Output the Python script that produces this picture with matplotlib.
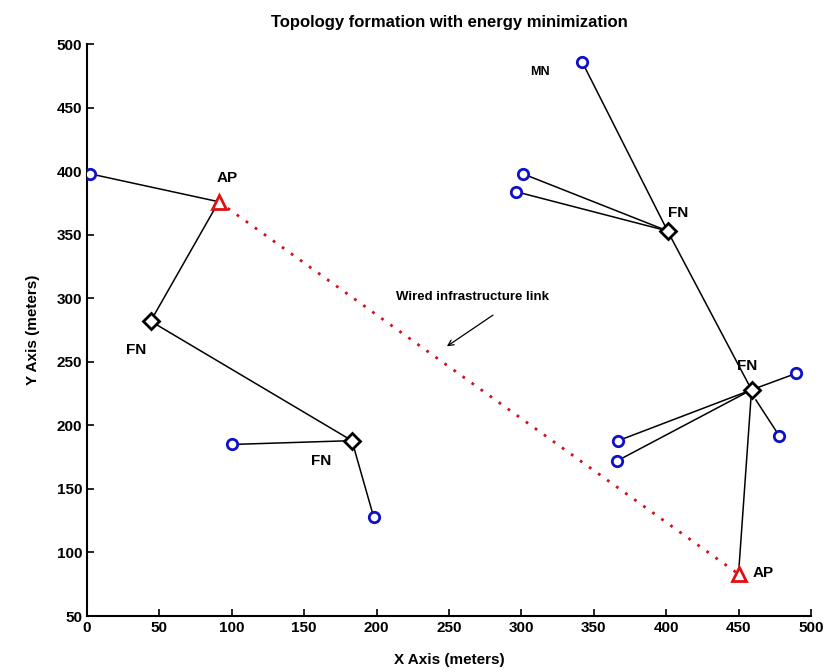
import matplotlib
matplotlib.use("Agg")
import matplotlib.pyplot as plt

plt.rcParams['font.family'] = ['Liberation Sans', 'DejaVu Sans']
plt.rcParams['font.weight'] = 'bold'

# access points (red triangles)
ap_x = [91, 450]
ap_y = [376, 83]

# forwarding nodes (black diamonds)
fn_x = [44, 183, 401, 459]
fn_y = [282, 188, 353, 228]

# mobile nodes (blue circles)
mn_x = [2, 100, 198, 342, 301, 296, 490, 478, 367, 366]
mn_y = [398, 185, 128, 486, 398, 384, 241, 192, 188, 172]

# links as (x0, y0, x1, y1)
links = [
    (2, 398, 91, 376),
    (91, 376, 44, 282),
    (44, 282, 183, 188),
    (100, 185, 183, 188),
    (183, 188, 198, 128),
    (342, 486, 401, 353),
    (301, 398, 401, 353),
    (296, 384, 401, 353),
    (401, 353, 459, 228),
    (459, 228, 490, 241),
    (462, 220, 478, 192),
    (459, 228, 367, 188),
    (459, 228, 366, 172),
    (459, 228, 450, 83),
]

labels = [
    ("AP", 97, 395, 11), ("FN", 34, 259, 11), ("FN", 162, 172, 11), ("MN", 313, 478, 9),
    ("FN", 408, 367, 11), ("FN", 456, 247, 11), ("AP", 467, 84, 11),
]

fig = plt.figure(figsize=(8.36, 6.72), dpi=100)
ax = fig.add_axes([0.104, 0.0833, 0.866, 0.851])

for x0, y0, x1, y1 in links:
    ax.plot([x0, x1], [y0, y1], color='black', lw=1.1, zorder=1)

# wired link between the two APs
ax.plot(ap_x, ap_y, color='#d01020', lw=2, ls=(0, (1, 3)), zorder=1)

ax.plot(mn_x, mn_y, 'o', ms=7.5, mfc='white', mec='#1010c8', mew=2, ls='none', zorder=3)
ax.plot(fn_x, fn_y, 'D', ms=8.5, mfc='white', mec='black', mew=2, ls='none', zorder=3)
ax.plot(ap_x, ap_y, '^', ms=10, mfc='white', mec='#e01010', mew=2, ls='none', zorder=3)

for txt, x, y, fs in labels:
    ax.text(x, y, txt, fontsize=fs, fontweight='bold', ha='center', va='center')

ax.text(266, 301, "Wired infrastructure link", fontsize=9.5, fontweight='bold', ha='center', va='center')
ax.annotate("", xy=(247, 261), xytext=(282, 288),
            arrowprops=dict(arrowstyle='->', color='black', lw=0.9))

ax.set_xlim(0, 500)
ax.set_ylim(50, 500)
ax.set_xticks(range(0, 501, 50))
ax.set_yticks(range(50, 501, 50))
ax.tick_params(direction='in', length=5, labelsize=11, width=1.2)
for lab in ax.get_xticklabels() + ax.get_yticklabels():
    lab.set_fontweight('bold')
ax.spines['top'].set_visible(False)
ax.spines['right'].set_visible(False)
ax.spines['left'].set_linewidth(1.5)
ax.spines['bottom'].set_linewidth(1.5)

ax.set_title("Topology formation with energy minimization", fontsize=12, fontweight='bold', pad=12)
ax.set_xlabel("X Axis (meters)", fontsize=11, fontweight='bold', labelpad=13)
ax.set_ylabel("Y Axis (meters)", fontsize=11, fontweight='bold', labelpad=12)

fig.savefig("out.png", dpi=100)
